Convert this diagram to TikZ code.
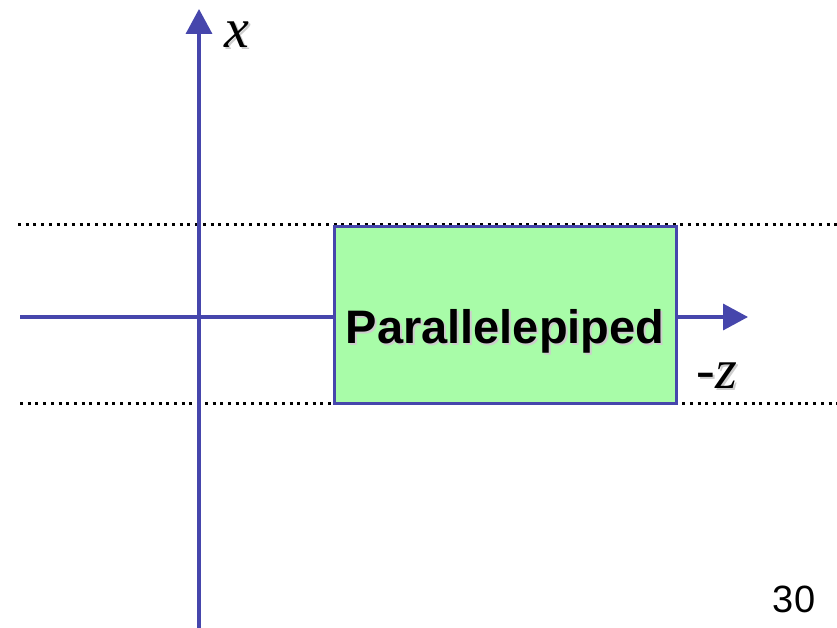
\documentclass[tikz,border=0pt]{standalone}
\usepackage{fontspec}
\setmainfont{Liberation Serif}
\setsansfont{Liberation Sans}
\usetikzlibrary{arrows.meta,positioning}
\definecolor{axisblue}{RGB}{70,70,172}
\definecolor{boxgreen}{RGB}{168,252,168}
\definecolor{shadegray}{RGB}{205,205,205}

\begin{document}
\begin{tikzpicture}[x=1pt, y=-1pt,
    axis/.style={axisblue, line width=3.5pt, -{Triangle[length=25pt,width=26pt]}},
    bound/.style={line width=3pt, dash pattern=on 3pt off 4.7pt},
    solid/.style={draw=axisblue, fill=boxgreen, line width=3pt,
      minimum width=342pt, minimum height=176pt, inner sep=0pt},
    axlabel/.style={font=\fontsize{56}{60}\selectfont\itshape, inner sep=0pt}]
        \useasboundingbox (0,0) rectangle (837,628);

        % slab bounds
        \coordinate (topL) at (18,225);
        \coordinate (topR) at (837,225);
        \coordinate (botL) at (20,403);
        \coordinate (botR) at (837,403);
        \draw[bound] (topL) -- (topR);
        \draw[bound] (botL) -- (botR);

        % axes
        \coordinate (xfoot) at (199,628);
        \coordinate (xtip) at (199,9);
        \coordinate (zfoot) at (20,317);
        \coordinate (ztip) at (748,317);
        \draw[axis] (xfoot) -- (xtip);
        \draw[axis] (zfoot) -- (ztip);

        % the solid
        \node[solid] (box) at (505,315) {};
        \node[font=\sffamily\bfseries\fontsize{47}{50}\selectfont, text=shadegray,
          anchor=base] (boxshade) at (507,345) {Parallelepiped};
        \node[font=\sffamily\bfseries\fontsize{47}{50}\selectfont,
          anchor=base] (boxlabel) at (505,343) {Parallelepiped};

        % axis names
        \node[axlabel, text=shadegray] (xshade) at (239,37) {x};
        \node[axlabel] (xlabel) at (237,35) {x};
        \node[axlabel, text=shadegray] (zshade) at (719,378) {-z};
        \node[axlabel] (zlabel) at (717,376) {-z};

        % page number
        \node[font=\sffamily\fontsize{38}{40}\selectfont, anchor=base] (page) at (794,612) {30};
\end{tikzpicture}
\end{document}
